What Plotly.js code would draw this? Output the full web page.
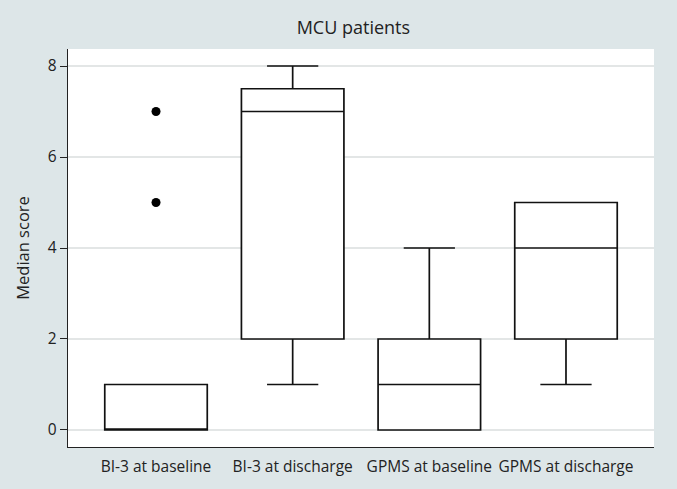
<!DOCTYPE html>
<html>
<head>
<meta charset="utf-8">
<script src="https://cdn.plot.ly/plotly-3.0.1.min.js"></script>
<style>
  html, body { margin: 0; padding: 0; background: #dde6e8; }
  #plot { width: 677px; height: 489px; }
</style>
</head>
<body>
<div id="plot"></div>
<script>
"use strict";

// Box summaries (scores 0..8)
const groups = ["BI-3 at baseline", "BI-3 at discharge", "GPMS at baseline", "GPMS at discharge"];
const lowerFence = [0, 1, 0, 1];
const q1Vals = [0, 2, 0, 2];
const medianVals = [0, 7, 1, 4];
const q3Vals = [1, 7.5, 2, 5];
const upperFence = [1, 8, 4, 5];

// Outside values (only the first group has any)
const outlierGroup = ["BI-3 at baseline", "BI-3 at baseline"];
const outlierVals = [5, 7];

const yTicks = [0, 2, 4, 6, 8];

const FONT = "Open Sans, Noto Sans, sans-serif";

const traces = [
    {
        type: "box",
        x: groups,
        q1: q1Vals,
        median: medianVals,
        q3: q3Vals,
        lowerfence: lowerFence,
        upperfence: upperFence,
        width: 0.75,
        whiskerwidth: 0.5,
        fillcolor: "#ffffff",
        line: { color: "#111111", width: 1.7 },
        boxpoints: false,
        showlegend: false,
        hoverinfo: "skip",
    },
    {
        type: "scatter",
        mode: "markers",
        x: outlierGroup,
        y: outlierVals,
        marker: { color: "#000000", size: 9 },
        showlegend: false,
        hoverinfo: "skip",
    },
];

const layout = {
    width: 677, height: 489,
    paper_bgcolor: "#dde6e8",
    plot_bgcolor: "#ffffff",
    margin: { t: 49, r: 23, b: 42, l: 68 },
    font: { family: FONT, color: "#222222", size: 15 },
    title: {
        text: "MCU patients",
        x: 0.522, xanchor: "center",
        y: 0.943, yanchor: "middle",
        font: { family: FONT, size: 18, color: "#222222" },
    },
    showlegend: false,
    xaxis: {
        type: "category",
        range: [-0.644, 3.644],
        showline: true, linecolor: "#222222", linewidth: 1.3,
        showgrid: false, zeroline: false,
        ticks: "outside", ticklen: 5, tickcolor: "rgba(0,0,0,0)",
        tickfont: { family: FONT, size: 15.5, color: "#222222" },
        fixedrange: true,
    },
    yaxis: {
        range: [-0.374, 8.374],
        tickvals: yTicks,
        ticktext: yTicks.map(String),
        showline: true, linecolor: "#222222", linewidth: 1.3,
        ticks: "outside", ticklen: 7, tickcolor: "#222222", tickwidth: 1,
        showgrid: true, gridcolor: "#e3e6e6", gridwidth: 1.3,
        zeroline: false,
        tickfont: { family: FONT, size: 15.5, color: "#222222" },
        title: { text: "Median score", font: { family: FONT, size: 16.5, color: "#222222" }, standoff: 14 },
        fixedrange: true,
    },
};

Plotly.newPlot("plot", traces, layout, { displayModeBar: false, staticPlot: true });
</script>
</body>
</html>
